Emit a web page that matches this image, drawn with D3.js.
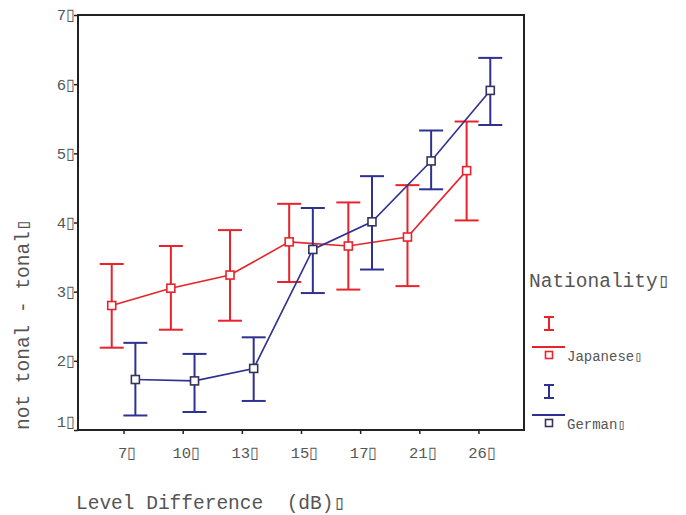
<!DOCTYPE html>
<html>
<head>
<meta charset="utf-8">
<script src="https://cdn.jsdelivr.net/npm/d3@7"></script>
<style>
  body { margin: 0; background: #fff; }
  svg { display: block; }
  text { font-family: "Liberation Mono", "DejaVu Sans Mono", monospace; fill: #555; }
</style>
</head>
<body>
<svg id="chart"></svg>
<script>
const BOX = "\u25AF";

// Level difference categories (x axis)
const categories = ["7", "10", "13", "15", "17", "21", "26"];
const yTicks = [1, 2, 3, 4, 5, 6, 7];

// Japanese: mean, upper and lower error bar ends
const japaneseMean = [2.80, 3.05, 3.24, 3.72, 3.66, 3.79, 4.75];
const japaneseHigh = [3.40, 3.66, 3.89, 4.27, 4.29, 4.54, 5.46];
const japaneseLow = [2.19, 2.45, 2.58, 3.14, 3.03, 3.08, 4.03];

// German
const germanMean = [1.73, 1.71, 1.89, 3.61, 4.01, 4.89, 5.91];
const germanHigh = [2.26, 2.10, 2.34, 4.21, 4.67, 5.33, 6.38];
const germanLow = [1.21, 1.26, 1.42, 2.98, 3.32, 4.48, 5.41];

const margin = { top: 15, right: 162, bottom: 85, left: 78 };
const WIDTH = 686;
const HEIGHT = 515;
const CHART_END_X = WIDTH - margin.right;
const CHART_END_Y = HEIGHT - margin.bottom;

const CAP = 12;
const MARK = 8;

const series = [
  { name: "Japanese", color: "#e8232b", markColor: "#e8232b", offset: -0.2,
    mean: japaneseMean, high: japaneseHigh, low: japaneseLow },
  { name: "German", color: "#2e3192", markColor: "#33335e", offset: 0.2,
    mean: germanMean, high: germanHigh, low: germanLow },
];

const svg = d3.select("#chart").attr("width", WIDTH).attr("height", HEIGHT);

const xScale = d3.scalePoint()
  .domain(categories)
  .range([margin.left, CHART_END_X])
  .padding(0.77);

const yScale = d3.scaleLinear()
  .domain([1, 7])
  .range([CHART_END_Y, margin.top]);

// Axes
const xAxis = d3.axisBottom(xScale)
  .tickSize(4)
  .tickSizeOuter(0)
  .tickPadding(13)
  .tickFormat((d) => d + BOX);

const yAxis = d3.axisLeft(yScale)
  .tickValues(yTicks)
  .tickSize(4)
  .tickSizeOuter(0)
  .tickPadding(-1)
  .tickFormat((d) => d + BOX);

const gx = svg.append("g")
  .attr("transform", `translate(0, ${CHART_END_Y})`)
  .call(xAxis);
gx.select(".domain").remove();
gx.selectAll(".tick line").attr("stroke", "#222").attr("stroke-width", 1.5);
gx.selectAll(".tick text")
  .attr("dx", 3)
  .style("font-size", "15.5px")
  .style("font-family", "Liberation Mono")
  .attr("fill", "#555");

const gy = svg.append("g")
  .attr("transform", `translate(${margin.left}, 0)`)
  .call(yAxis);
gy.select(".domain").remove();
gy.selectAll(".tick line").attr("stroke", "#222").attr("stroke-width", 1.5);
gy.selectAll(".tick text")
  .style("font-size", "15.5px")
  .style("font-family", "Liberation Mono")
  .attr("fill", "#555")
  .attr("dy", (d) => (d === 1 ? "-0.2em" : "0.32em"));

// Frame
svg.append("rect")
  .attr("x", margin.left)
  .attr("y", margin.top)
  .attr("width", CHART_END_X - margin.left)
  .attr("height", CHART_END_Y - margin.top)
  .attr("fill", "none")
  .attr("stroke", "#222")
  .attr("stroke-width", 2);

// Series
const px = (s, i) => xScale(categories[i]) + s.offset * xScale.step();

series.forEach((s) => {
  const g = svg.append("g").attr("class", "series");
  const idx = d3.range(categories.length);

  // error bars
  const bars = g.selectAll(".err").data(idx).join("g").attr("class", "err")
    .attr("stroke", s.color).attr("stroke-width", 2);
  bars.append("line")
    .attr("x1", (i) => px(s, i)).attr("x2", (i) => px(s, i))
    .attr("y1", (i) => yScale(s.high[i])).attr("y2", (i) => yScale(s.low[i]));
  bars.append("line")
    .attr("x1", (i) => px(s, i) - CAP).attr("x2", (i) => px(s, i) + CAP)
    .attr("y1", (i) => yScale(s.high[i])).attr("y2", (i) => yScale(s.high[i]));
  bars.append("line")
    .attr("x1", (i) => px(s, i) - CAP).attr("x2", (i) => px(s, i) + CAP)
    .attr("y1", (i) => yScale(s.low[i])).attr("y2", (i) => yScale(s.low[i]));

  // mean line
  const line = d3.line()
    .x((i) => px(s, i))
    .y((i) => yScale(s.mean[i]));
  g.append("path")
    .datum(idx)
    .attr("d", line)
    .attr("fill", "none")
    .attr("stroke", s.color)
    .attr("stroke-width", 1.6);

  // markers
  g.selectAll(".mark").data(idx).join("rect")
    .attr("class", "mark")
    .attr("x", (i) => px(s, i) - MARK / 2)
    .attr("y", (i) => yScale(s.mean[i]) - MARK / 2)
    .attr("width", MARK)
    .attr("height", MARK)
    .attr("fill", "#fff")
    .attr("stroke", s.markColor)
    .attr("stroke-width", 1.6);
});

// Axis titles
svg.append("text")
  .attr("x", 76)
  .attr("y", 509)
  .style("font-size", "19.5px")
  .style("white-space", "pre")
  .text("Level Difference  (dB)" + BOX);

svg.append("text")
  .attr("transform", "translate(29, 430) rotate(-90)")
  .style("font-size", "19.5px")
  .style("white-space", "pre")
  .text("not tonal - tonal" + BOX);

// Legend
const legend = svg.append("g").attr("transform", "translate(529, 0)");
legend.append("text")
  .attr("x", 0)
  .attr("y", 287)
  .style("font-size", "19.5px")
  .text("Nationality" + BOX);

const items = legend.selectAll(".item").data(series).join("g")
  .attr("class", "item")
  .attr("transform", (d, i) => `translate(0, ${i * 68})`);

items.append("line")
  .attr("x1", 20).attr("x2", 20).attr("y1", 317).attr("y2", 330)
  .attr("stroke", (d) => d.color).attr("stroke-width", 2);
items.append("line")
  .attr("x1", 15).attr("x2", 25).attr("y1", 317).attr("y2", 317)
  .attr("stroke", (d) => d.color).attr("stroke-width", 2);
items.append("line")
  .attr("x1", 15).attr("x2", 25).attr("y1", 330).attr("y2", 330)
  .attr("stroke", (d) => d.color).attr("stroke-width", 2);
items.append("line")
  .attr("x1", 3).attr("x2", 36).attr("y1", 347).attr("y2", 347)
  .attr("stroke", (d) => d.color).attr("stroke-width", 2);
items.append("rect")
  .attr("x", 20 - 3.5).attr("y", 355 - 3.5).attr("width", 7).attr("height", 7)
  .attr("fill", "#fff")
  .attr("stroke", (d) => d.markColor).attr("stroke-width", 1.6);
items.append("text")
  .attr("x", 38)
  .attr("y", 361)
  .style("font-size", "14px")
  .text((d) => d.name + BOX);
</script>
</body>
</html>
